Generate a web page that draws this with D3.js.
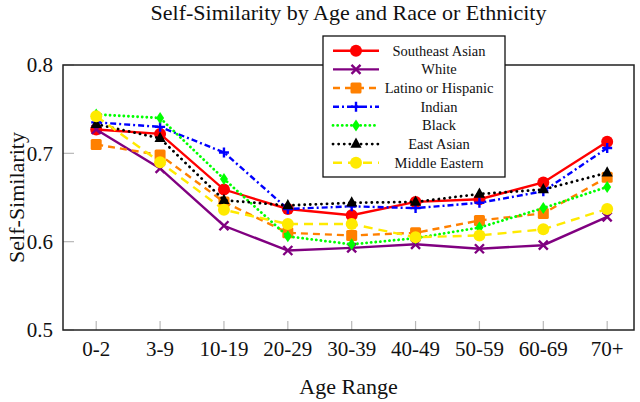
<!DOCTYPE html>
<html><head><meta charset="utf-8">
<script src="https://cdn.jsdelivr.net/npm/d3@7"></script>
<style>body{margin:0;background:#fff}svg{display:block}text{font-family:"Liberation Serif","Times New Roman",serif;fill:#111}</style>
</head><body>
<svg id="c" width="640" height="402"></svg>
<script>
const ages = ["0-2","3-9","10-19","20-29","30-39","40-49","50-59","60-69","70+"];
const seriesNames = ["Southeast Asian","White","Latino or Hispanic","Indian","Black","East Asian","Middle Eastern"];
const southeastAsian = [0.727,0.722,0.659,0.637,0.630,0.645,0.648,0.667,0.713];
const white          = [0.727,0.683,0.618,0.590,0.593,0.597,0.592,0.596,0.628];
const latino         = [0.710,0.698,0.645,0.610,0.607,0.610,0.624,0.632,0.673];
const indian         = [0.735,0.730,0.701,0.637,0.640,0.638,0.644,0.657,0.706];
const black          = [0.744,0.740,0.671,0.606,0.597,0.604,0.616,0.638,0.662];
const eastAsian      = [0.733,0.717,0.647,0.641,0.644,0.645,0.654,0.659,0.678];
const middleEastern  = [0.742,0.690,0.636,0.620,0.620,0.605,0.607,0.614,0.637];
const yTicks = [0.5,0.6,0.7,0.8];

const values = [southeastAsian, white, latino, indian, black, eastAsian, middleEastern];
const styles = [
  {color:"#ff0000", dash:null, marker:"circle"},
  {color:"#800080", dash:null, marker:"x"},
  {color:"#ff8000", dash:"7,5", marker:"square"},
  {color:"#0000ff", dash:"6,3,2,3", marker:"plus"},
  {color:"#00ff00", dash:"0.1,4.5", cap:"round", marker:"diamond"},
  {color:"#000000", dash:"0.1,5.5", cap:"round", marker:"triangle"},
  {color:"#ffea00", dash:"9,6", marker:"circle"}
];

const svg = d3.select("#c");
const L=63, R=634, T=65, B=330;
const x = d3.scaleLinear().domain([-0.52, 8.42]).range([L, R]);
const y = d3.scaleLinear().domain([0.5, 0.8]).range([B, T]);

svg.append("g").selectAll("line").data(yTicks).join("line")
  .attr("x1", L).attr("x2", L+11).attr("y1", d=>y(d)).attr("y2", d=>y(d))
  .attr("stroke","#b8b8b8").attr("stroke-width",1.2);
svg.append("g").selectAll("line").data(ages).join("line")
  .attr("x1",(d,i)=>x(i)).attr("x2",(d,i)=>x(i)).attr("y1",B).attr("y2",B-9)
  .attr("stroke","#b8b8b8").attr("stroke-width",1.2);

svg.append("g").selectAll("text").data(yTicks).join("text")
  .attr("x", L-10).attr("y", d=>y(d)).attr("dy","0.35em").attr("text-anchor","end")
  .attr("font-size",21).text(d=>d3.format(".1f")(d));
svg.append("g").selectAll("text").data(ages).join("text")
  .attr("x",(d,i)=>x(i)).attr("y",B+26).attr("text-anchor","middle")
  .attr("font-size",21).text(d=>d);

svg.append("text").attr("x",(L+R)/2).attr("y",20).attr("text-anchor","middle")
  .attr("font-size",22).text("Self-Similarity by Age and Race or Ethnicity");
svg.append("text").attr("x",(L+R)/2).attr("y",394).attr("text-anchor","middle")
  .attr("font-size",22).text("Age Range");
svg.append("text").attr("transform",`translate(24,${(T+B)/2}) rotate(-90)`)
  .attr("text-anchor","middle").attr("font-size",22).text("Self-Similarity");

function drawMarker(g, type, color, cx, cy){
  if(type==="circle") g.append("circle").attr("cx",cx).attr("cy",cy).attr("r",6).attr("fill",color);
  else if(type==="square") g.append("rect").attr("x",cx-5.5).attr("y",cy-5.5).attr("width",11).attr("height",11).attr("rx",1.5).attr("fill",color);
  else if(type==="diamond") g.append("path").attr("d",`M${cx},${cy-6}L${cx+4},${cy}L${cx},${cy+6}L${cx-4},${cy}Z`).attr("fill",color);
  else if(type==="triangle") g.append("path").attr("d",`M${cx},${cy-6.5}L${cx+5.6},${cy+3.8}L${cx-5.6},${cy+3.8}Z`).attr("fill",color);
  else if(type==="plus") g.append("path").attr("d",`M${cx-5},${cy}H${cx+5}M${cx},${cy-5}V${cy+5}`).attr("stroke",color).attr("stroke-width",2.4);
  else if(type==="x") g.append("path").attr("d",`M${cx-4.5},${cy-4.5}L${cx+4.5},${cy+4.5}M${cx-4.5},${cy+4.5}L${cx+4.5},${cy-4.5}`).attr("stroke",color).attr("stroke-width",2.4);
}

const line = d3.line().x((d,i)=>x(i)).y(d=>y(d));
values.forEach((vals, s)=>{
  const st = styles[s];
  const g = svg.append("g");
  g.append("path").datum(vals).attr("d", line).attr("fill","none")
    .attr("stroke", st.color)
    .attr("stroke-dasharray", st.dash).attr("stroke-linecap", st.cap||"butt")
    .attr("stroke-width", st.cap ? 2.8 : 2.4);
  vals.forEach((v,i)=>drawMarker(g, st.marker, st.color, x(i), y(v)));
});

svg.append("rect").attr("x",L).attr("y",T).attr("width",R-L).attr("height",B-T)
  .attr("fill","none").attr("stroke","#222").attr("stroke-width",1.5);

const lg = svg.append("g");
lg.append("rect").attr("x",323).attr("y",36).attr("width",182).attr("height",141)
  .attr("fill","#fff").attr("stroke","#111").attr("stroke-width",1.3);
seriesNames.forEach((name,s)=>{
  const st = styles[s];
  const cy = 50.7 + s*18.67;
  lg.append("line").attr("x1",333).attr("x2",379).attr("y1",cy).attr("y2",cy)
    .attr("stroke",st.color).attr("stroke-width", st.cap?2.8:2.4)
    .attr("stroke-dasharray",st.dash).attr("stroke-linecap",st.cap||"butt");
  drawMarker(lg, st.marker, st.color, 356, cy);
  lg.append("text").attr("x",439).attr("y",cy).attr("dy","0.35em").attr("text-anchor","middle")
    .attr("font-size",14.5).text(name);
});
</script>
</body></html>
